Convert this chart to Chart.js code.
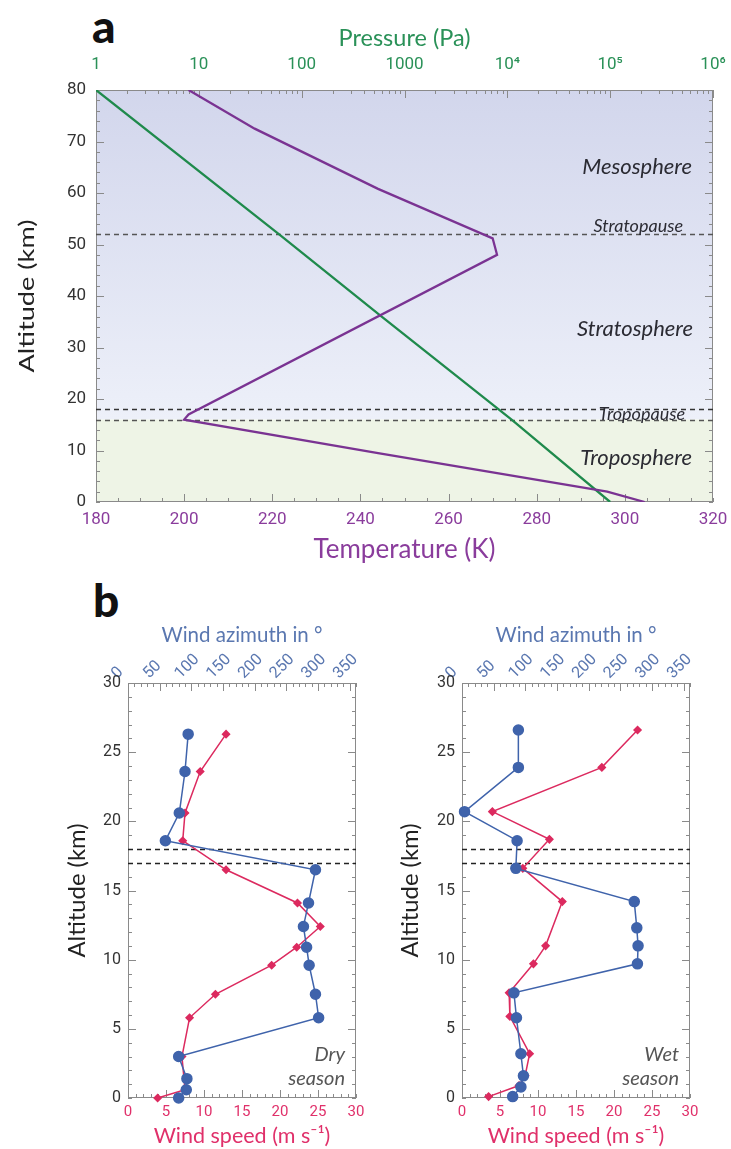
<!DOCTYPE html>
<html>
<head>
<meta charset="utf-8">
<script src="https://cdn.jsdelivr.net/npm/chart.js@4.4.1/dist/chart.umd.min.js"></script>
<style>
  body { margin: 0; background: #fff; width: 731px; height: 1149px; position: relative; overflow: hidden; font-family: Lato, sans-serif; }
  canvas { position: absolute; }
  .panel { position: absolute; font-family: Lato, sans-serif; font-weight: 900; font-size: 46px; line-height: 46px; color: #111; }
</style>
</head>
<body>
<div class="panel" style="left:92px;top:3px">a</div>
<div class="panel" style="left:93px;top:577px">b</div>
<canvas id="chartA" width="731" height="570" style="left:0;top:0"></canvas>
<canvas id="chartDry" width="345" height="549" style="left:30px;top:600px"></canvas>
<canvas id="chartWet" width="345" height="549" style="left:372px;top:600px"></canvas>
<script>
// Panel a: temperature and pressure profiles
const tempAltitude = [80, 72.5, 60.8, 51.2, 48, 17, 16, 9.5, 2, 0];
const temperature = [201, 216, 244, 270, 271, 201, 200, 244, 296, 304.5];
const pressureAltitude = [80, 52, 36, 16, 0];
const pressure = [1, 60, 600, 11000, 100000];
const pressureTicks = [1, 10, 100, 1000, 1e4, 1e5, 1e6];
const pressureTickLabels = ['1', '10', '100', '1000', '10⁴', '10⁵', '10⁶'];

// Panel b: radiosonde wind profiles
const azimuthTicks = [0, 50, 100, 150, 200, 250, 300, 350];

const dryAzimuthAlt = [26.3, 23.6, 20.6, 18.6, 16.5, 14.1, 12.4, 10.9, 9.6, 7.5, 5.8, 3.0, 1.4, 0.6, 0.0];
const dryAzimuth = [95, 90, 81, 59, 296, 285, 277, 282, 286, 296, 301, 80, 93, 92, 80];
const dryWindAlt = [26.3, 23.6, 20.6, 18.6, 16.5, 14.1, 12.4, 10.9, 9.6, 7.5, 5.8, 3.0, 0.6, 0.0];
const dryWind = [12.9, 9.5, 7.5, 7.2, 12.9, 22.3, 25.3, 22.2, 18.9, 11.5, 8.1, 7.1, 7.5, 3.9];

const wetAzimuthAlt = [26.6, 23.9, 20.7, 18.6, 16.6, 14.2, 12.3, 11.0, 9.7, 7.6, 5.8, 3.2, 1.6, 0.8, 0.1];
const wetAzimuth = [89, 89, 4, 87, 85, 272, 276, 278, 277, 82, 86, 93, 97, 93, 80];
const wetWindAlt = [26.6, 23.9, 20.7, 18.7, 16.6, 14.2, 11.0, 9.7, 7.6, 5.9, 3.2, 1.6, 0.9, 0.1];
const wetWind = [23.1, 18.4, 4.0, 11.5, 8.0, 13.2, 11.0, 9.4, 6.2, 6.3, 8.9, 8.3, 7.5, 3.5];

const purple = '#7a3392', purpleText = '#8a3c9c';
const green = '#1f8a4c', greenText = '#2a9158';
const blue = '#3f63ab', blueText = '#5a77b0';
const red = '#dc2a5f', redText = '#e0306a';
const frameColor = '#8a8a8a';
const tickFont = 'Roboto, sans-serif';
const titleFont = 'Lato, sans-serif';

const range = (a, b, step) => { const out = []; for (let v = a; v <= b + 1e-9; v += step) out.push(v); return out; };
const toPoints = (xs, ys) => xs.map((x, i) => ({ x, y: ys[i] }));

function drawFrame(chart, sides, yMajor, yMinor) {
  const { ctx, chartArea: a, scales } = chart;
  ctx.save();
  ctx.strokeStyle = frameColor;
  ctx.lineWidth = 1;
  ctx.strokeRect(a.left + 0.5, a.top + 0.5, a.right - a.left - 1, a.bottom - a.top - 1);
  ctx.beginPath();
  sides.forEach(({ id, major, minor }) => {
    const s = scales[id];
    const atTop = s.position === 'top';
    const put = (v, len) => {
      const x = Math.round(s.getPixelForValue(v)) + 0.5;
      const y0 = atTop ? a.top : a.bottom;
      ctx.moveTo(x, y0);
      ctx.lineTo(x, atTop ? y0 + len : y0 - len);
    };
    major.forEach(v => put(v, 8));
    minor.forEach(v => put(v, 4));
  });
  const ys = scales.y;
  const putY = (v, len) => {
    const y = Math.round(ys.getPixelForValue(v)) + 0.5;
    ctx.moveTo(a.left, y); ctx.lineTo(a.left + len, y);
    ctx.moveTo(a.right, y); ctx.lineTo(a.right - len, y);
  };
  yMajor.forEach(v => putY(v, 8));
  yMinor.forEach(v => putY(v, 4));
  ctx.stroke();
  ctx.restore();
}

function hDash(chart, alt, color) {
  const { ctx, chartArea: a, scales: { y } } = chart;
  const py = Math.round(y.getPixelForValue(alt)) + 0.5;
  ctx.save();
  ctx.strokeStyle = color;
  ctx.lineWidth = 1.5;
  ctx.setLineDash([5, 4]);
  ctx.beginPath();
  ctx.moveTo(a.left, py);
  ctx.lineTo(a.right, py);
  ctx.stroke();
  ctx.restore();
}

// vertical axis title, widely tracked like the original figure
function drawYTitle(chart, text, dx, size, length) {
  const { ctx, chartArea: a } = chart;
  ctx.save();
  ctx.font = size + 'px ' + titleFont;
  const w = ctx.measureText(text).width;
  ctx.translate(a.left - dx, (a.top + a.bottom) / 2);
  ctx.rotate(-Math.PI / 2);
  ctx.scale(length / w, 1);
  ctx.fillStyle = '#222';
  ctx.textAlign = 'center';
  ctx.textBaseline = 'alphabetic';
  ctx.fillText(text, 0, 0);
  ctx.restore();
}

const logMinor = [];
for (let d = 0; d < 6; d++) for (let m = 2; m <= 9; m++) logMinor.push(m * Math.pow(10, d));

const atmospherePlugin = {
  id: 'atmosphere',
  beforeDatasetsDraw(chart) {
    const { ctx, chartArea: a, scales: { y } } = chart;
    const y16 = y.getPixelForValue(16);
    const g = ctx.createLinearGradient(0, a.top, 0, y16);
    g.addColorStop(0, '#d2d6ec');
    g.addColorStop(1, '#edf0f9');
    ctx.save();
    ctx.fillStyle = g;
    ctx.fillRect(a.left, a.top, a.right - a.left, y16 - a.top);
    ctx.fillStyle = '#eef4e6';
    ctx.fillRect(a.left, y16, a.right - a.left, a.bottom - y16);
    ctx.restore();

    drawFrame(chart, [
      { id: 'xT', major: range(200, 300, 20), minor: range(180, 320, 5) },
      { id: 'xP', major: pressureTicks, minor: logMinor }
    ], range(10, 70, 10), range(0, 80, 2));

    hDash(chart, 52, '#555');
    hDash(chart, 18, '#333');
    hDash(chart, 16, '#555');

    ctx.save();
    ctx.fillStyle = '#2b2b33';
    ctx.textAlign = 'right';
    ctx.textBaseline = 'middle';
    ctx.font = 'italic 22px ' + titleFont;
    ctx.fillText('Mesosphere', a.right - 21, y.getPixelForValue(65.1));
    ctx.fillText('Stratosphere', a.right - 20, y.getPixelForValue(33.7));
    ctx.fillText('Troposphere', a.right - 21, y.getPixelForValue(8.6));
    ctx.font = 'italic 18px ' + titleFont;
    ctx.fillText('Stratopause', a.right - 30, y.getPixelForValue(53.6));
    ctx.fillText('Tropopause', a.right - 28, y.getPixelForValue(17.0));
    ctx.restore();
  },
  afterDraw(chart) {
    drawYTitle(chart, 'Altitude (km)', 62, 22, 153);
  }
};

new Chart(document.getElementById('chartA'), {
  type: 'scatter',
  data: {
    datasets: [
      {
        label: 'Temperature',
        data: toPoints(temperature, tempAltitude),
        xAxisID: 'xT', yAxisID: 'y',
        showLine: true, borderColor: purple, borderWidth: 2.3,
        pointRadius: 0, tension: 0
      },
      {
        label: 'Pressure',
        data: toPoints(pressure, pressureAltitude),
        xAxisID: 'xP', yAxisID: 'y',
        showLine: true, borderColor: green, borderWidth: 2.3,
        pointRadius: 0, tension: 0
      }
    ]
  },
  options: {
    responsive: false,
    animation: false,
    layout: { padding: { left: 0, right: 18, top: 0, bottom: 0 } },
    plugins: { legend: { display: false }, tooltip: { enabled: false } },
    scales: {
      xT: {
        type: 'linear', position: 'bottom', min: 180, max: 320,
        grid: { display: false, drawTicks: false }, border: { display: false },
        ticks: { stepSize: 20, color: purpleText, padding: 8, font: { family: tickFont, size: 17 } },
        title: { display: true, text: 'Temperature (K)', color: purpleText, font: { family: titleFont, size: 26 }, padding: { top: 0, bottom: 5 } },
        afterFit: s => { s.height = 68; s.paddingLeft = 0; s.paddingRight = 0; }
      },
      xP: {
        type: 'logarithmic', position: 'top', min: 1, max: 1e6,
        grid: { display: false, drawTicks: false }, border: { display: false },
        afterBuildTicks: s => { s.ticks = pressureTicks.map(v => ({ value: v, major: true })); },
        ticks: { autoSkip: false, color: greenText, padding: 15, font: { family: tickFont, size: 17 },
                 callback: (v, i) => pressureTickLabels[i] },
        title: { display: true, text: 'Pressure (Pa)', color: greenText, font: { family: titleFont, size: 23.5 }, padding: { top: 24, bottom: 0 } },
        afterFit: s => { s.height = 90; s.paddingLeft = 0; s.paddingRight = 0; }
      },
      y: {
        type: 'linear', position: 'left', min: 0, max: 80,
        grid: { display: false, drawTicks: false }, border: { display: false },
        ticks: { stepSize: 10, color: '#333', padding: 10, font: { family: tickFont, size: 17 } },
        title: { display: false },
        afterFit: s => { s.width = 96; s.paddingTop = 0; s.paddingBottom = 0; }
      }
    }
  },
  plugins: [atmospherePlugin]
});

function windChart(canvasId, azAlt, az, wsAlt, ws, season, yWidth, padRight, titleDx) {
  const seasonPlugin = {
    id: 'season',
    beforeDatasetsDraw(chart) {
      drawFrame(chart, [
        { id: 'xs', major: range(5, 25, 5), minor: range(0, 30, 1) },
        { id: 'xa', major: range(50, 350, 50), minor: range(0, 360, 10) }
      ], range(5, 25, 5), range(0, 30, 1));
      hDash(chart, 18, '#222');
      hDash(chart, 17, '#222');
      const { ctx, chartArea: a } = chart;
      ctx.save();
      ctx.fillStyle = '#555';
      ctx.textAlign = 'right';
      ctx.textBaseline = 'middle';
      ctx.font = 'italic 20px ' + titleFont;
      ctx.fillText(season[0], a.right - 11, a.bottom - 43);
      ctx.fillText(season[1], a.right - 11, a.bottom - 19);
      ctx.restore();
    },
    afterDraw(chart) {
      drawYTitle(chart, 'Altitude (km)', titleDx, 23, 134);
    }
  };

  new Chart(document.getElementById(canvasId), {
    type: 'scatter',
    data: {
      datasets: [
        {
          label: 'Wind azimuth',
          data: toPoints(az, azAlt),
          xAxisID: 'xa', yAxisID: 'y',
          showLine: true, borderColor: blue, borderWidth: 1.5,
          pointStyle: 'circle', pointRadius: 5, pointBackgroundColor: blue, pointBorderColor: blue,
          tension: 0
        },
        {
          label: 'Wind speed',
          data: toPoints(ws, wsAlt),
          xAxisID: 'xs', yAxisID: 'y',
          showLine: true, borderColor: red, borderWidth: 1.5,
          pointStyle: 'rectRot', pointRadius: 3.5, pointBackgroundColor: red, pointBorderColor: red,
          tension: 0
        }
      ]
    },
    options: {
      responsive: false,
      animation: false,
      clip: false,
      layout: { padding: { left: 0, right: padRight, top: 0, bottom: 0 } },
      plugins: { legend: { display: false }, tooltip: { enabled: false } },
      scales: {
        xs: {
          type: 'linear', position: 'bottom', min: 0, max: 30,
          grid: { display: false, drawTicks: false }, border: { display: false },
          ticks: { stepSize: 5, color: redText, padding: 5, font: { family: tickFont, size: 15 } },
          title: { display: true, text: 'Wind speed (m s⁻¹)', color: redText, font: { family: titleFont, size: 21.5 }, padding: { top: 0, bottom: 0 } },
          afterFit: s => { s.height = 51; s.paddingLeft = 0; s.paddingRight = 0; }
        },
        xa: {
          type: 'linear', position: 'top', min: 0, max: 360,
          grid: { display: false, drawTicks: false }, border: { display: false },
          afterBuildTicks: s => { s.ticks = azimuthTicks.map(v => ({ value: v })); },
          ticks: { autoSkip: false, minRotation: 45, maxRotation: 45, color: blueText, padding: 0, font: { family: tickFont, size: 16 } },
          title: { display: true, text: 'Wind azimuth in °', color: blueText, font: { family: titleFont, size: 20.5 }, padding: { top: 23, bottom: 0 } },
          afterFit: s => { s.height = 83; s.paddingLeft = 0; s.paddingRight = 0; }
        },
        y: {
          type: 'linear', position: 'left', min: 0, max: 30,
          grid: { display: false, drawTicks: false }, border: { display: false },
          ticks: { stepSize: 5, color: '#333', padding: 7, font: { family: tickFont, size: 16 } },
          title: { display: false },
          afterFit: s => { s.width = yWidth; s.paddingTop = 0; s.paddingBottom = 0; }
        }
      }
    },
    plugins: [seasonPlugin]
  });
}

windChart('chartDry', dryAzimuthAlt, dryAzimuth, dryWindAlt, dryWind, ['Dry', 'season'], 98, 19, 43);
windChart('chartWet', wetAzimuthAlt, wetAzimuth, wetWindAlt, wetWind, ['Wet', 'season'], 90, 27, 44);
</script>
</body>
</html>
